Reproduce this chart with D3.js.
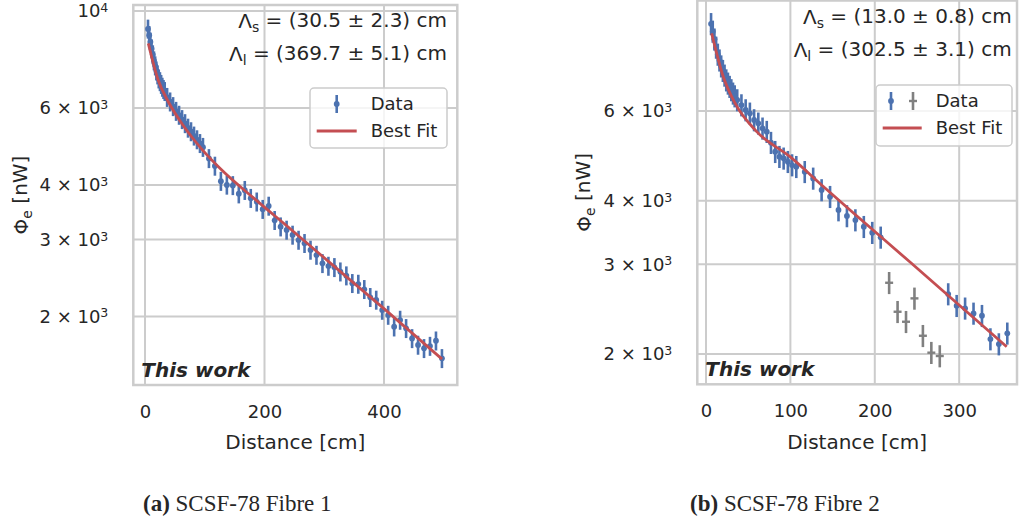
<!DOCTYPE html>
<meta charset="utf-8">
<style>
  body { margin: 0; background: #fff; }
  text { font-family: "DejaVu Sans", sans-serif; fill: #262626; }
  .caption { font-family: "Liberation Serif", serif; }
</style>
<body>
<svg id="fig" width="1022" height="524"></svg>
</body>
<script src="https://d3js.org/d3.v7.min.js"></script>
<script>

// fibre 1 measurements (distance in cm, flux in nW)
var dist1 = [5, 7, 9, 11, 13, 15, 17, 19, 21, 23, 25, 27, 29, 31, 33,
  37, 42, 47, 52, 57, 62, 67, 72, 77, 82, 87, 92, 97,
  107, 117, 127, 137, 147, 157, 167, 177, 187, 197, 207, 217, 227, 237, 247, 257, 267, 277,
  287, 297, 307, 317, 327, 337, 347, 357, 367, 377, 387, 397, 407, 417, 427, 437, 447, 457,
  467, 477, 487, 497];
var flux1 = [9100, 8800, 8500, 8200, 7950, 7700, 7500, 7300, 7150, 7000, 6900, 6800, 6700, 6620, 6550,
  6350, 6200, 6050, 5900, 5780, 5650, 5530, 5400, 5300, 5180, 5080, 4980, 4880,
  4600, 4420, 4080, 4000, 3990, 3820, 3890, 3730, 3660, 3520, 3580, 3320, 3210, 3155, 3073, 2992, 2941, 2839,
  2764, 2646, 2609, 2591, 2532, 2480, 2382, 2373, 2308, 2213, 2182, 2069, 2015, 1895, 1963, 1879, 1782, 1721,
  1691, 1711, 1760, 1604];
var fitDist1 = [5.5, 22, 39, 64, 95, 128, 181, 243, 326, 399, 497];
var fitFlux1 = [8435, 6950, 6200, 5470, 4830, 4330, 3740, 3175, 2540, 2090, 1598];

// fibre 2 measurements
var dist2 = [6, 8, 10, 12, 14, 16, 18, 20, 22, 24, 26, 28, 30, 32, 34,
  37, 42, 47, 52, 57, 62, 67, 72, 77, 82, 87, 92, 97, 102, 107,
  117, 127, 137, 147, 157, 167, 177, 187, 197, 207,
  287, 297, 307, 317, 327, 337, 347, 357];
var flux2 = [8900, 8600, 8300, 8000, 7750, 7550, 7350, 7200, 7050, 6900, 6800, 6700, 6600, 6500, 6420,
  6306, 6164, 6027, 5937, 5761, 5675, 5548, 5465, 5200, 4991, 4880, 4844, 4770, 4699, 4663,
  4558, 4424, 4198, 4072, 3834, 3733, 3664, 3555, 3461, 3388,
  2622, 2487, 2458, 2402, 2377, 2139, 2091, 2195];
// points left out of the fit (grey)
var outDist2 = [217, 227, 237, 247, 257, 267, 277];
var outFlux2 = [2759, 2420, 2313, 2571, 2171, 2011, 1981];
var fitDist2 = [6.7, 20.5, 34.4, 60.1, 99.5, 139, 170.6, 241.7, 356.3];
var fitFlux2 = [8527, 7006, 6215, 5465, 4880, 4264, 3834, 3030, 2066];

var xTicks1 = [0, 200, 400];
var xTicks2 = [0, 100, 200, 300];
var yTicks1 = [10000, 6000, 4000, 3000, 2000];
var yTicks2 = [6000, 4000, 3000, 2000];
var fitText1 = ["(30.5 \u00b1 2.3) cm", "(369.7 \u00b1 5.1) cm"];
var fitText2 = ["(13.0 \u00b1 0.8) cm", "(302.5 \u00b1 3.1) cm"];
var relErr = 0.05;

var blue = "#4c72b0", red = "#c44e52", grey = "#808080", gridCol = "#cccccc";

var svg = d3.select("#fig");

function drawPanel(p) {
  var g = svg.append("g");
  var x = d3.scaleLinear().domain(p.xDomain).range([p.x0, p.x1]);
  var y = d3.scaleLog().domain(p.yDomain).range([p.y1, p.y0]);

  // grid
  g.selectAll(".vg").data(p.xTicks).enter().append("line")
    .attr("x1", d => x(d)).attr("x2", d => x(d))
    .attr("y1", p.y0).attr("y2", p.y1)
    .attr("stroke", gridCol).attr("stroke-width", 2);
  g.selectAll(".hg").data(p.yTicks).enter().append("line")
    .attr("x1", p.x0).attr("x2", p.x1)
    .attr("y1", d => y(d)).attr("y2", d => y(d))
    .attr("stroke", gridCol).attr("stroke-width", 2);

  // axes (labels only)
  var xa = g.append("g").attr("transform", "translate(0," + p.y1 + ")")
    .call(d3.axisBottom(x).tickValues(p.xTicks).tickSize(0).tickPadding(20).tickFormat(d3.format("d")));
  xa.select(".domain").remove();
  xa.selectAll("text").style("font-size", "18px");

  var ya = g.append("g").attr("transform", "translate(" + p.x0 + ",0)")
    .call(d3.axisLeft(y).tickValues(p.yTicks).tickSize(0).tickPadding(25).tickFormat(""));
  ya.select(".domain").remove();
  ya.selectAll(".tick text").style("font-size", "18px").each(function(d) {
    var t = d3.select(this),
        e = Math.floor(Math.log10(d) + 1e-9),
        m = Math.round(d / Math.pow(10, e));
    t.text(m === 1 ? "10" : m + " \u00d7 10");
    t.append("tspan").attr("dy", "-0.42em").style("font-size", "12.5px").text(e);
  });

  // frame
  g.append("rect")
    .attr("x", p.x0).attr("y", p.y0)
    .attr("width", p.x1 - p.x0).attr("height", p.y1 - p.y0)
    .attr("fill", "none").attr("stroke", gridCol).attr("stroke-width", 2.5);

  // data with error bars
  var pts = d3.zip(p.dist, p.flux);
  g.selectAll(".eb").data(pts).enter().append("line")
    .attr("x1", d => x(d[0])).attr("x2", d => x(d[0]))
    .attr("y1", d => y(d[1] * (1 - relErr))).attr("y2", d => y(d[1] * (1 + relErr)))
    .attr("stroke", blue).attr("stroke-width", 2.6);
  g.selectAll(".pt").data(pts).enter().append("circle")
    .attr("cx", d => x(d[0])).attr("cy", d => y(d[1])).attr("r", 2.9)
    .attr("fill", blue);

  if (p.outDist) {
    var out = d3.zip(p.outDist, p.outFlux);
    g.selectAll(".eo").data(out).enter().append("line")
      .attr("x1", d => x(d[0])).attr("x2", d => x(d[0]))
      .attr("y1", d => y(d[1] * (1 - relErr))).attr("y2", d => y(d[1] * (1 + relErr)))
      .attr("stroke", grey).attr("stroke-width", 2.6);
    g.selectAll(".ho").data(out).enter().append("line")
      .attr("x1", d => x(d[0]) - 4).attr("x2", d => x(d[0]) + 4)
      .attr("y1", d => y(d[1])).attr("y2", d => y(d[1]))
      .attr("stroke", grey).attr("stroke-width", 2.4);
  }

  // fit
  var line = d3.line().x(d => x(d[0])).y(d => y(d[1])).curve(d3.curveMonotoneX);
  g.append("path").datum(d3.zip(p.fitDist, p.fitFlux))
    .attr("d", line).attr("fill", "none")
    .attr("stroke", red).attr("stroke-width", 2.8);

  // fit results
  var subs = ["s", "l"];
  p.fitText.forEach(function(s, i) {
    var t = g.append("text")
      .attr("x", p.annX).attr("y", p.annY + i * 33)
      .attr("text-anchor", "end").style("font-size", "20px");
    t.append("tspan").text("\u039b");
    t.append("tspan").attr("dy", "0.25em").style("font-size", "14px").text(subs[i]);
    t.append("tspan").attr("dy", "-0.25em").text(" = " + s);
  });

  // legend
  var L = p.legend;
  var lg = g.append("g");
  lg.append("rect").attr("x", L.x).attr("y", L.y).attr("width", L.w).attr("height", L.h)
    .attr("rx", 4).attr("fill", "#fff").attr("fill-opacity", 0.8)
    .attr("stroke", gridCol).attr("stroke-width", 1.5);
  lg.append("line").attr("x1", L.mx).attr("x2", L.mx).attr("y1", L.y + 7).attr("y2", L.y + 25)
    .attr("stroke", blue).attr("stroke-width", 2.6);
  lg.append("circle").attr("cx", L.mx).attr("cy", L.y + 16).attr("r", 2.9).attr("fill", blue);
  if (p.outDist) {
    lg.append("line").attr("x1", L.mx + 22).attr("x2", L.mx + 22).attr("y1", L.y + 7).attr("y2", L.y + 25)
      .attr("stroke", grey).attr("stroke-width", 2.6);
    lg.append("line").attr("x1", L.mx + 18).attr("x2", L.mx + 26).attr("y1", L.y + 16).attr("y2", L.y + 16)
      .attr("stroke", grey).attr("stroke-width", 2.4);
  }
  lg.append("line").attr("x1", L.lx0).attr("x2", L.lx1).attr("y1", L.y + 43).attr("y2", L.y + 43)
    .attr("stroke", red).attr("stroke-width", 2.8);
  lg.append("text").attr("x", L.tx).attr("y", L.y + 22).style("font-size", "18px").text("Data");
  lg.append("text").attr("x", L.tx).attr("y", L.y + 49).style("font-size", "18px").text("Best Fit");

  g.append("text").attr("x", p.x0 + 8).attr("y", p.y1 - 8)
    .style("font-size", "20px").style("font-weight", "bold").style("font-style", "italic")
    .text("This work");

  // axis titles
  g.append("text").attr("x", (p.x0 + p.x1) / 2).attr("y", 449)
    .attr("text-anchor", "middle").style("font-size", "20px").text("Distance [cm]");
  var yl = g.append("text")
    .attr("transform", "translate(" + p.ylx + "," + (p.y0 + p.y1) / 2 + ") rotate(-90)")
    .attr("text-anchor", "middle").style("font-size", "20px");
  yl.append("tspan").text("\u03a6");
  yl.append("tspan").attr("dy", "0.25em").style("font-size", "14px").text("e");
  yl.append("tspan").attr("dy", "-0.25em").text(" [nW]");

  // caption
  var c = svg.append("text").attr("class", "caption")
    .attr("x", p.capX).attr("y", 511).style("font-size", "23px");
  c.append("tspan").style("font-weight", "bold").text(p.capTag);
  c.append("tspan").text(" " + p.capText);
}

drawPanel({
  x0: 133.3, x1: 457.3, y0: 5, y1: 385,
  xDomain: [-19.6, 522.7], yDomain: [1394, 10321],
  xTicks: xTicks1, yTicks: yTicks1,
  dist: dist1, flux: flux1, fitDist: fitDist1, fitFlux: fitFlux1,
  fitText: fitText1, annX: 447, annY: 28,
  legend: {x: 310, y: 88, w: 137, h: 60, mx: 336.7, lx0: 316.7, lx1: 356.7, tx: 370.7},
  ylx: 28, capX: 143, capTag: "(a)", capText: "SCSF-78 Fibre 1"
});

drawPanel({
  x0: 697.3, x1: 1017, y0: 0.5, y1: 384.3,
  xDomain: [-10.3, 368.5], yDomain: [1743, 9891],
  xTicks: xTicks2, yTicks: yTicks2,
  dist: dist2, flux: flux2, outDist: outDist2, outFlux: outFlux2,
  fitDist: fitDist2, fitFlux: fitFlux2,
  fitText: fitText2, annX: 1011.7, annY: 24,
  legend: {x: 876, y: 85, w: 136, h: 61, mx: 891, lx0: 882.7, lx1: 921.7, tx: 935.7},
  ylx: 591, capX: 690, capTag: "(b)", capText: "SCSF-78 Fibre 2"
});
</script>
